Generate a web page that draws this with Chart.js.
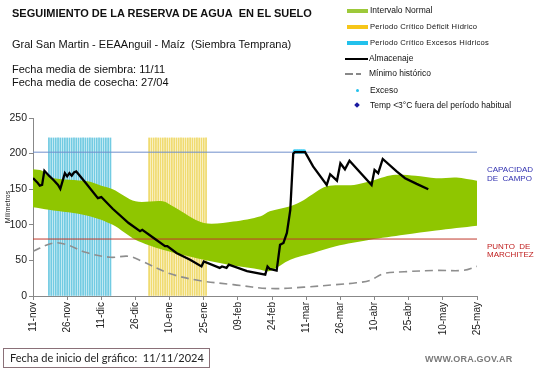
<!DOCTYPE html>
<html>
<head>
<meta charset="utf-8">
<script src="https://cdn.jsdelivr.net/npm/chart.js@4.4.1/dist/chart.umd.min.js"></script>
<style>
  html, body { margin:0; padding:0; background:#fff; }
  #wrap { position:relative; width:541px; height:368px; overflow:hidden; font-family:"Liberation Sans", Arial, sans-serif; color:#111; }
  #c { position:absolute; left:0; top:0; }
  .t { position:absolute; white-space:nowrap; line-height:1; }
  .lg { position:absolute; white-space:nowrap; font-size:8.5px; line-height:1; color:#111; }
  .sw { position:absolute; }
</style>
</head>
<body>
<div id="wrap">
  <canvas id="c" width="541" height="368"></canvas>
  <div class="t" style="left:12px;top:8px;font-size:11px;font-weight:bold;">SEGUIMIENTO DE LA RESERVA DE AGUA&nbsp; EN EL SUELO</div>
  <div class="t" style="left:12px;top:39px;font-size:11px;">Gral San Martin - EEAAnguil - Maíz&nbsp; (Siembra Temprana)</div>
  <div class="t" style="left:12px;top:64px;font-size:11px;">Fecha media de siembra: 11/11</div>
  <div class="t" style="left:12px;top:77px;font-size:11px;">Fecha media de cosecha: 27/04</div>

  <div class="sw" style="left:347px;top:9px;width:21px;height:4px;background:#9dc93a;"></div>
  <div class="lg" style="left:370px;top:6px;">Intervalo Normal</div>
  <div class="sw" style="left:347px;top:25px;width:21px;height:4px;background:#f6c619;"></div>
  <div class="lg" style="left:370px;top:23px;font-size:7.6px;letter-spacing:0.25px;">Periodo Crítico Déficit Hídrico</div>
  <div class="sw" style="left:347px;top:41px;width:21px;height:4px;background:#22c1ec;"></div>
  <div class="lg" style="left:370px;top:39px;font-size:7.6px;letter-spacing:0.25px;">Periodo Crítico Excesos Hídricos</div>
  <div class="sw" style="left:345px;top:58px;width:23px;height:2px;background:#000;"></div>
  <div class="lg" style="left:369px;top:54px;">Almacenaje</div>
  <div class="sw" style="left:345px;top:73px;width:8px;height:2px;background:#888;"></div>
  <div class="sw" style="left:356px;top:73px;width:5px;height:2px;background:#888;"></div>
  <div class="lg" style="left:369px;top:69px;">Mínimo histórico</div>
  <div class="sw" style="left:356px;top:89px;width:3px;height:3px;background:#22c1ec;border-radius:50%;"></div>
  <div class="lg" style="left:370px;top:86px;">Exceso</div>
  <div class="sw" style="left:355px;top:103px;width:4px;height:4px;background:#1a1aa0;transform:rotate(45deg);"></div>
  <div class="lg" style="left:370px;top:101px;">Temp &lt;3°C fuera del período habitual</div>

  <div class="t" style="left:3px;top:348px;width:205px;height:18px;border:1px solid #8a7078;"></div>
  <div class="t" style="left:10px;top:352px;font-family:Lato, 'Open Sans', sans-serif;font-size:11px;color:#222;">Fecha de inicio del gráfico:&nbsp; 11/11/2024</div>
  <div class="t" style="left:425px;top:355px;font-size:9px;font-weight:bold;color:#7a7a7a;letter-spacing:0.2px;">WWW.ORA.GOV.AR</div>
</div>
<script>
// ---- Data (x = days since 11-nov) ----
const tickLabels = ["11-nov","26-nov","11-dic","26-dic","10-ene","25-ene","09-feb","24-feb","11-mar","26-mar","10-abr","25-abr","10-may","25-may"];

const almDays = [0,2,3,4,5,7,9,11,12,14,15,16,17,18,19,23,28.5,30,35,42,47,48,53,58,59,63,69,74,75,82,83,85,86,94,102,103,104,107,108.5,110,111.5,113,114.3,115,119.5,123,129,130.5,133.5,135,137,139,148.7,150,151.6,153.6,159.7,163.4,168.5,173.6];
const almVals = [165.5,159,155,156,176,169,163,156,150.5,172.5,168,172.5,169,173.5,175,159.5,137.5,139,122.5,102.5,91,93,81.5,70,70,60.5,51,41.5,48.5,39.5,41.5,39.5,44,35,30,41.5,38,35.7,72,74.5,88.5,121,200,202,202,182,156,171,162,186.5,178,190,156,177,172.5,192.5,175,165.5,157.5,150];

const upperDays = [0,4,8,24,30,35,45,57,62,75,88,100,104,113,119,129,141,148,158,168,177,186,195];
const upperVals = [178,176,166,161,155,150,133,133,125,102.5,104.5,112,119,126,135,154,156,161,170,169,165.5,166.5,162];

const lowerDays = [0,7,24,35,45,57,75,88,100,104,113,123,133,148,163,177,195];
const lowerVals = [124.5,121,112.7,100,79,65,51,42.7,37,35,51,60.5,70,79,86,92,98.7];

const minDays = [0,9,15,23,34,42,48,60,73,88,104,119,133,142,148,154,163,177,189,195];
const minVals = [62.8,74.5,72,61.3,54.4,55.8,48.7,31.5,21.7,16,10.5,12.4,16,18.5,22,31.5,34,36,36,41.7];

const excessDays = [115,116,117,118,119];
const excessVals = [203,203,203,203,203];

const cyanDays = [7,8,9,10,11,12,13,14,15,16,17,18,19,20,21,22,23,24,25,26,27,28,29,30,31,32,33,34];
const yellowDays = [51,52,53,54,55,56,57,58,59,60,61,62,63,64,65,66,67,68,69,70,71,72,73,74,75,76];
const barTop = 222;

const capacidadCampo = 202;
const puntoMarchitez = 80;

const pts = (xs, ys) => xs.map((x, i) => ({x, y: ys[i]}));
const bars = (xs, v) => xs.map(x => ({x, y: v}));

const labelsPlugin = {
  id: 'extraText',
  afterDraw(chart) {
    const ctx = chart.ctx, y = chart.scales.y;
    ctx.save();
    ctx.font = '8px "Liberation Sans", Arial, sans-serif';
    ctx.textBaseline = 'middle';
    ctx.textAlign = 'left';
    ctx.fillStyle = '#3030b0';
    const yc = y.getPixelForValue(capacidadCampo);
    ctx.fillText('CAPACIDAD', 487, yc + 18);
    ctx.fillText('DE  CAMPO', 487, yc + 27);
    ctx.fillStyle = '#c02020';
    const ym = y.getPixelForValue(puntoMarchitez);
    ctx.fillText('PUNTO  DE', 487, ym + 8);
    ctx.fillText('MARCHITEZ', 487, ym + 16);
    // y axis title
    ctx.translate(8, (chart.chartArea.top + chart.chartArea.bottom) / 2);
    ctx.rotate(-Math.PI / 2);
    ctx.textAlign = 'center';
    ctx.fillStyle = '#222';
    ctx.font = '7px "Liberation Sans", Arial, sans-serif';
    ctx.fillText('Milímetros', 0, 0);
    ctx.restore();
  }
};

new Chart(document.getElementById('c'), {
  type: 'line',
  data: {
    datasets: [
      { label: 'Almacenaje', data: pts(almDays, almVals), borderColor: '#000', borderWidth: 2.3, pointRadius: 0, tension: 0, order: 0 },
      { label: 'Exceso', type: 'line', data: pts(excessDays, excessVals), showLine: false, pointRadius: 2.2, pointBackgroundColor: '#29c6f2', pointBorderWidth: 0, order: 1 },
      { label: 'Mínimo histórico', data: pts(minDays, minVals), borderColor: '#8e8e8e', borderWidth: 1.6, borderDash: [8, 5], pointRadius: 0, tension: 0.35, order: 2 },
      { label: 'CC', data: [{x:0,y:capacidadCampo},{x:195,y:capacidadCampo}], borderColor: '#6f8fcc', borderWidth: 1, pointRadius: 0, order: 3 },
      { label: 'PM', data: [{x:0,y:puntoMarchitez},{x:195,y:puntoMarchitez}], borderColor: '#c0392b', borderWidth: 1, pointRadius: 0, order: 4 },
      { label: 'Upper', data: pts(upperDays, upperVals), borderWidth: 0, borderColor: 'rgba(0,0,0,0)', backgroundColor: '#8fc600', pointRadius: 0, tension: 0.3, fill: 6, order: 5 },
      { label: 'Lower', data: pts(lowerDays, lowerVals), borderWidth: 0, borderColor: 'rgba(0,0,0,0)', pointRadius: 0, tension: 0.3, fill: false, order: 6 },
      { label: 'Excesos', type: 'bar', data: bars(cyanDays, barTop), backgroundColor: '#72cbe2', barThickness: 1.1, grouped: false, order: 20 },
      { label: 'Deficit', type: 'bar', data: bars(yellowDays, barTop), backgroundColor: '#f0db70', barThickness: 1.1, grouped: false, order: 21 }
    ]
  },
  options: {
    responsive: false,
    animation: false,
    events: [],
    layout: { padding: { left: 0, right: 64, top: 118, bottom: 32 } },
    plugins: { legend: { display: false }, tooltip: { enabled: false } },
    scales: {
      x: {
        type: 'linear', min: 0, max: 195, offset: false,
        afterFit(s) { s.height = 40; },
        border: { color: '#888', width: 1 },
        grid: { drawOnChartArea: false, drawTicks: true, tickLength: 4, color: '#888', offset: false },
        ticks: {
          stepSize: 15, autoSkip: false, maxRotation: 90, minRotation: 90, padding: 2,
          color: '#222', font: { family: '"Liberation Sans", Arial, sans-serif', size: 10 },
          callback: (v) => tickLabels[Math.round(v / 15)]
        }
      },
      y: {
        min: 0, max: 250,
        afterFit(s) { s.width = 33; },
        border: { color: '#888', width: 1 },
        grid: { drawOnChartArea: false, drawTicks: true, tickLength: 4, color: '#888' },
        ticks: { stepSize: 50, padding: 2, color: '#222', font: { family: '"Liberation Sans", Arial, sans-serif', size: 10.5 } }
      }
    }
  },
  plugins: [labelsPlugin]
});
</script>
</body>
</html>
